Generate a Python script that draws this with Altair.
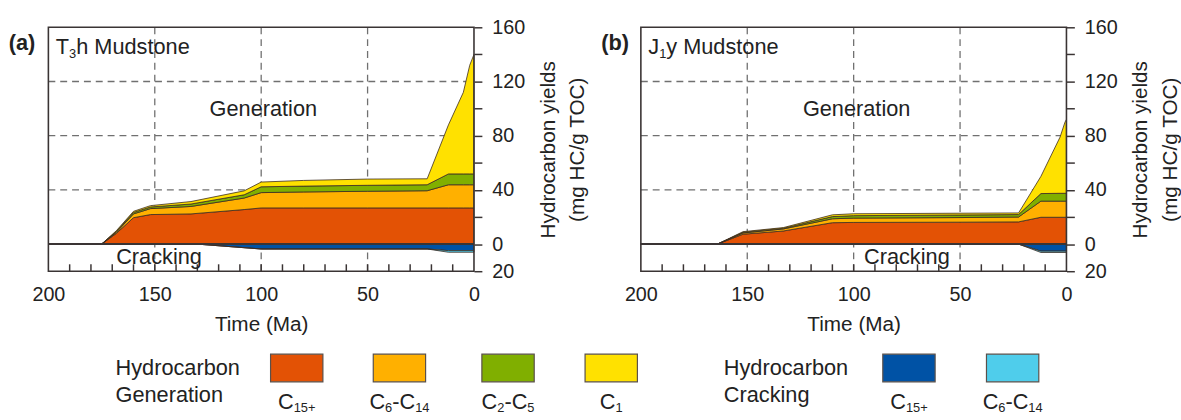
import altair as alt
import pandas as pd

# ------------------------------------------------------------------ data
GEN_LAYERS = ["C15+", "C6-C14", "C2-C5", "C1"]
GEN_COLORS = ["#E35205", "#FFB000", "#80AF00", "#FFE100"]
CRACK_LAYERS = ["C15+ cracked", "C6-C14 cracked"]
CRACK_COLORS = ["#0052A5", "#4FCDEB"]

# Panel (a) T3h mudstone: cumulative tops of the stacked generation layers
A_TIME = [200, 175, 168, 160, 152, 133, 108, 100, 80, 50, 22, 12, 5, 2, 0]
A_TOP_C15 = [0, 0, 8.0, 19.5, 21.8, 22.3, 25.5, 26.7, 26.7, 26.7, 26.7, 26.7, 26.7, 26.7, 26.7]
A_TOP_C6_C14 = [0, 0, 8.8, 22.3, 26.2, 27.8, 34.0, 38.0, 38.5, 39.0, 39.4, 43.8, 43.8, 43.8, 43.8]
A_TOP_C2_C5 = [0, 0, 9.4, 23.4, 27.4, 29.6, 36.4, 42.3, 42.8, 43.4, 43.8, 51.8, 51.8, 51.8, 51.8]
A_TOP_C1 = [0, 0, 10.0, 24.2, 28.4, 31.4, 39.3, 45.8, 47.0, 48.0, 48.2, 88.0, 112.0, 132.0, 140.0]
# cracking (negative, cumulative bottoms)
A_CRACK_TIME = [200, 130, 100, 22, 12, 0]
A_BOT_C15_CRACK = [0, 0, -3.6, -3.6, -4.8, -4.8]
A_BOT_C6_C14_CRACK = [0, 0, -3.6, -3.6, -6.0, -6.0]

# Panel (b) J1y mudstone
B_TIME = [200, 164, 152, 133, 110, 100, 50, 22.5, 12, 3, 0.7, 0]
B_TOP_C15 = [0, 0, 7.3, 9.7, 15.8, 16.0, 16.2, 16.4, 19.8, 19.8, 19.8, 19.8]
B_TOP_C6_C14 = [0, 0, 8.2, 11.2, 18.7, 19.2, 19.6, 20.0, 31.7, 31.7, 31.7, 31.7]
B_TOP_C2_C5 = [0, 0, 8.7, 11.7, 20.3, 21.0, 21.5, 21.8, 37.3, 37.5, 37.5, 37.5]
B_TOP_C1 = [0, 0, 9.2, 12.2, 21.6, 22.4, 22.8, 23.0, 50.0, 79.0, 90.0, 92.0]
B_CRACK_TIME = [200, 22.5, 12, 0]
B_BOT_C15_CRACK = [0, 0, -5.2, -5.2]
B_BOT_C6_C14_CRACK = [0, 0, -6.2, -6.2]

X_LABEL_TICKS = [200, 150, 100, 50, 0]
X_MINOR_TICKS = [190, 180, 170, 160, 150, 140, 130, 120, 110, 100, 90, 80, 70, 60, 50, 40, 30, 20, 10]
Y_TICKS = [-20, 0, 20, 40, 60, 80, 100, 120, 140, 160]
GRID_X = [150, 100, 50]
GRID_Y = [40, 80, 120]

# ------------------------------------------------------------------ style / layout
FONT = "Liberation Sans"
TEXT = "#222222"
FRAME = "#3a3434"
PW, PH = 431, 247
X_DOM = [200, 0]
Y_DOM = [-20, 160]
FS = 22
TICK_FS = 20
SUB_FS = 13

W = {" ": 278, "(": 333, ")": 333, "-": 333, "+": 584, "/": 278,
     "A": 667, "C": 722, "G": 778, "H": 722, "J": 500, "M": 833, "O": 778, "T": 611,
     "a": 556, "b": 556, "c": 500, "d": 556, "e": 556, "g": 556, "h": 556, "i": 222,
     "k": 500, "l": 222, "m": 833, "n": 556, "o": 556, "r": 333, "s": 500, "t": 278,
     "u": 556, "y": 500}

AX_X = alt.Axis(values=X_LABEL_TICKS, ticks=False, domain=False, grid=False,
                labelFont=FONT, labelFontSize=TICK_FS, labelColor=TEXT,
                labelPadding=14, title="Time (Ma)", titleFont=FONT,
                titleFontSize=FS - 1, titleFontWeight="normal",
                titleColor=TEXT, titlePadding=9, labelFlush=False)
AX_Y = alt.Axis(orient="right", values=Y_TICKS, grid=False, domain=False,
                tickSize=8, tickWidth=1.5, tickColor=FRAME,
                labelExpr="(datum.value % 40 == 0 || datum.value == -20) ? abs(datum.value) : ''",
                labelFont=FONT, labelFontSize=TICK_FS, labelColor=TEXT,
                labelPadding=10, labelFlush=False,
                title=["Hydrocarbon yields", "(mg HC/g TOC)"],
                titleAngle=270, titleFont=FONT, titleFontSize=FS - 1,
                titleFontWeight="normal", titleColor=TEXT,
                titleLineHeight=30, titlePadding=4)


def tw(s, size):
    return sum(W.get(c, 556) for c in s) * size / 1000.0


def PX(field):
    return alt.X(field, scale=alt.Scale(domain=X_DOM, nice=False, zero=False), axis=AX_X)


def PY(field):
    return alt.Y(field, scale=alt.Scale(domain=Y_DOM, nice=False, zero=False), axis=AX_Y)


def rich(segments, x, y, fx, fy, align="left", size=FS, sub_size=SUB_FS,
         sub_dy=7, weight="normal"):
    widths = [tw(t, sub_size if sub else size) for t, sub in segments]
    off = 0 if align == "left" else -sum(widths) / 2.0
    df = pd.DataFrame({"x": [x], "y": [y]})
    out = []
    for (t, sub), w in zip(segments, widths):
        out.append(
            alt.Chart(df).mark_text(
                text=t, align="left", baseline="middle", dx=off,
                dy=sub_dy if sub else 0, font=FONT,
                fontSize=sub_size if sub else size, fontWeight=weight, color=TEXT
            ).encode(x=fx("x:Q"), y=fy("y:Q"))
        )
        off += w
    return out


def stacked(time, tops, names):
    rows = []
    prev = [0] * len(time)
    for name, top in zip(names, tops):
        for t, lo, hi in zip(time, prev, top):
            rows.append({"time": t, "lo": lo, "hi": hi, "layer": name})
        prev = top
    return rows


def build(time, tops, ctime, cbots, tag, name_segments, gen_x, crack_x):
    rows = stacked(time, tops, GEN_LAYERS) + stacked(ctime, cbots, CRACK_LAYERS)
    df = pd.DataFrame(rows)
    color = alt.Color("layer:N", legend=None,
                      scale=alt.Scale(domain=GEN_LAYERS + CRACK_LAYERS,
                                      range=GEN_COLORS + CRACK_COLORS))
    gx = alt.Chart(pd.DataFrame({"t": GRID_X, "a": Y_DOM[0], "b": Y_DOM[1]})).mark_rule(
        color="#707070", strokeDash=[7, 5], strokeWidth=1.3
    ).encode(x=PX("t:Q"), y=PY("a:Q"), y2="b:Q")
    gy = alt.Chart(pd.DataFrame({"v": GRID_Y, "a": X_DOM[0], "b": X_DOM[1]})).mark_rule(
        color="#707070", strokeDash=[7, 5], strokeWidth=1.3
    ).encode(y=PY("v:Q"), x=PX("a:Q"), x2="b:Q")
    area = alt.Chart(df).mark_area(
        stroke="#3b2b22", strokeWidth=0.8, opacity=1
    ).encode(x=PX("time:Q"), y=PY("lo:Q"), y2="hi:Q", color=color)
    zero = alt.Chart(pd.DataFrame({"v": [0], "a": [X_DOM[0]], "b": [X_DOM[1]]})).mark_rule(
        color=FRAME, strokeWidth=2
    ).encode(y=PY("v:Q"), x=PX("a:Q"), x2="b:Q")
    minor = alt.Chart(pd.DataFrame({"t": X_MINOR_TICKS, "a": Y_DOM[0]})).mark_rule(
        color=FRAME, strokeWidth=1.5
    ).encode(x=PX("t:Q"), y=PY("a:Q"), y2=alt.value(PH - 7))
    frame = alt.Chart(pd.DataFrame({"x": [X_DOM[0]], "x2": [X_DOM[1]],
                                    "y": [Y_DOM[0]], "y2": [Y_DOM[1]]})).mark_rect(
        fill="transparent", stroke=FRAME, strokeWidth=1.6
    ).encode(x=PX("x:Q"), x2="x2:Q", y=PY("y:Q"), y2="y2:Q")
    texts = []
    texts += rich([(tag, False)], 218.6, 148, PX, PY, weight="bold")
    texts += rich(name_segments, 196.5, 145.5, PX, PY, size=FS, sub_size=SUB_FS, sub_dy=7)
    texts += rich([("Generation", False)], gen_x, 99.7, PX, PY, align="center")
    texts += rich([("Cracking", False)], crack_x, -9.5, PX, PY, align="center")
    return alt.layer(gx, gy, area, zero, minor, frame, *texts).properties(width=PW, height=PH)


chart_a = build(A_TIME, [A_TOP_C15, A_TOP_C6_C14, A_TOP_C2_C5, A_TOP_C1],
                A_CRACK_TIME, [A_BOT_C15_CRACK, A_BOT_C6_C14_CRACK],
                "(a)", [("T", False), ("3", True), ("h Mudstone", False)], 99, 148)
chart_b = build(B_TIME, [B_TOP_C15, B_TOP_C6_C14, B_TOP_C2_C5, B_TOP_C1],
                B_CRACK_TIME, [B_BOT_C15_CRACK, B_BOT_C6_C14_CRACK],
                "(b)", [("J", False), ("1", True), ("y Mudstone", False)], 98.6, 75)

# ------------------------------------------------------------------ legend
H_SPACING = 169
LEG_W, LEG_H = 2 * PW + H_SPACING, 56
LEG_LABEL_SEGS = [
    [("C", False), ("15+", True)],
    [("C", False), ("6", True), ("-C", False), ("14", True)],
    [("C", False), ("2", True), ("-C", False), ("5", True)],
    [("C", False), ("1", True)],
    [("C", False), ("15+", True)],
    [("C", False), ("6", True), ("-C", False), ("14", True)],
]
LEG_NAMES = ["gen C15+", "gen C6-C14", "gen C2-C5", "gen C1", "crk C15+", "crk C6-C14"]
LEG_COLORS = GEN_COLORS + CRACK_COLORS
LEG_CENTERS = [251.5, 355.5, 465.5, 570, 871.5, 976.5]   # layout (legend px units)
SW_W, SW_H = 53, 28


def LX(field):
    return alt.X(field, scale=alt.Scale(domain=[0, LEG_W], nice=False, zero=False), axis=None)


def LY(field):
    return alt.Y(field, scale=alt.Scale(domain=[LEG_H, 0], nice=False, zero=False), axis=None)


sw_df = pd.DataFrame({
    "x": [c - SW_W / 2 for c in LEG_CENTERS],
    "x2": [c + SW_W / 2 for c in LEG_CENTERS],
    "y": [0] * 6, "y2": [SW_H] * 6, "k": LEG_NAMES,
})
swatches = alt.Chart(sw_df).mark_rect(stroke="#5a504a", strokeWidth=1.2).encode(
    x=LX("x:Q"), x2="x2:Q", y=LY("y:Q"), y2="y2:Q",
    color=alt.Color("k:N", legend=None,
                    scale=alt.Scale(domain=LEG_NAMES, range=LEG_COLORS)),
)
leg_texts = []
leg_texts += rich([("Hydrocarbon", False)], 68, 14, LX, LY)
leg_texts += rich([("Generation", False)], 68, 41, LX, LY)
leg_texts += rich([("Hydrocarbon", False)], 684, 14, LX, LY)
leg_texts += rich([("Cracking", False)], 684, 41, LX, LY)
for segs, c in zip(LEG_LABEL_SEGS, LEG_CENTERS):
    leg_texts += rich(segs, c, 49, LX, LY, align="center", size=FS, sub_size=SUB_FS, sub_dy=6)

legend = alt.layer(swatches, *leg_texts).properties(width=LEG_W, height=LEG_H)

top = alt.hconcat(chart_a, chart_b, spacing=H_SPACING, bounds="flush")
chart = alt.vconcat(top, legend, spacing=19).properties(
    padding={"left": 8, "top": 15, "right": 0, "bottom": 0}
).configure_view(strokeWidth=0)

chart.save("out.html", embed_options={"renderer": "svg", "actions": False})
